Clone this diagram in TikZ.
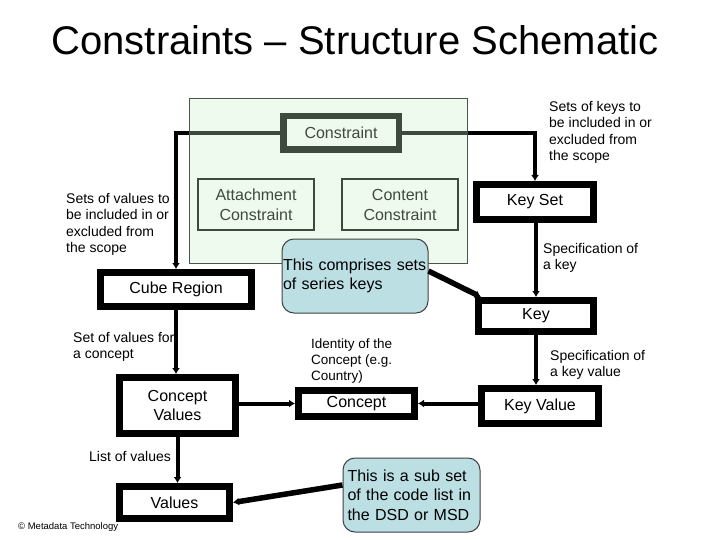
\documentclass[tikz,border=0pt]{standalone}
\usepackage{fontspec}
\setmainfont{Liberation Sans}
\usetikzlibrary{positioning, calc, arrows.meta}
\definecolor{wash}{RGB}{197,239,197}
\definecolor{washline}{RGB}{72,88,72}
\definecolor{callout}{RGB}{188,223,228}
\tikzset{
  > = {Latex[length = 6pt, width = 8pt]},
  heavy/.style = {draw, line width = 7pt, align = center, inner sep = 0pt,
    font = \fontsize{16}{19}\selectfont},
  light/.style = {heavy, line width = 2pt, font = \fontsize{16}{20}\selectfont},
  bubble/.style = {draw = black!75, line width = 1pt, fill = callout,
    rounded corners = 12pt, align = left, minimum height = 74pt,
    font = \fontsize{16}{19.5}\selectfont},
  link/.style = {->, line width = 4pt},
  pointer/.style = {->, line width = 5.5pt},
  caption/.style = {anchor = north west, inner sep = 0pt, align = left,
    font = \fontsize{14}{16.5}\selectfont}
}
\begin{document}
\begin{tikzpicture}[x = 1pt, y = -1pt]
\useasboundingbox (0,0) rectangle (720,540);

%% Title
\node [anchor = base, font = \fontsize{40}{48}\selectfont] (title) at (355,55)
  {Constraints -- Structure Schematic};

%% Constraint group
\node [heavy, line width = 6.5pt, minimum width = 115.5pt, minimum height = 33.5pt]
  (constraint) at (341,133) {Constraint};
\node [light, minimum width = 116pt, minimum height = 51pt] (attach) at (256,204.5)
  {Attachment\\Constraint};
\node [light, minimum width = 116pt, minimum height = 51pt] (content) at (400,204.5)
  {Content\\Constraint};

%% Region side
\node [heavy, minimum width = 151pt, minimum height = 34pt] (cube) at (176,289.5) {Cube Region};
\node [heavy, minimum width = 116pt, minimum height = 56pt] (cvalues) at (177.5,405.5)
  {Concept\\Values};
\node [heavy, minimum width = 110pt, minimum height = 32pt] (values) at (174.5,502.5) {Values};
\node [heavy, minimum width = 116pt, minimum height = 26pt] (concept) at (356.5,403.5) {Concept};

%% Key side
\node [heavy, minimum width = 117pt, minimum height = 35pt] (keyset) at (535,202) {Key Set};
\node [heavy, minimum width = 115pt, minimum height = 31pt] (key) at (536,316) {Key};
\node [heavy, minimum width = 117pt, minimum height = 35pt] (keyvalue) at (540,406) {Key Value};

%% Links
\draw [link] (constraint.west) -| (cube.north);
\draw [link] (constraint.east) -| (keyset.north);
\draw [link] (cube.south) -- (cube.south |- cvalues.north);
\draw [link] (cvalues.south) -- (cvalues.south |- values.north);
\draw [link] (cvalues.east |- concept) -- (concept.west);
\draw [link] (keyvalue.west |- concept) -- (concept.east);
\draw [link] (keyset.south -| key) -- (key.north);
\draw [link] (key.south) -- (key.south |- keyvalue.north);

%% Wash over the constraint group
\fill [wash, fill opacity = 0.31] (189,99) rectangle (467,263);
\draw [washline, line width = 1pt] (189,99) rectangle (467,263);

%% Callouts
\node [bubble, text width = 144pt, inner xsep = 1pt] (series) at (355,276)
  {This comprises sets\\of series keys};
\node [bubble, text width = 128pt, inner xsep = 4.5pt] (subset) at (411.5,495)
  {This is a sub set\\of the code list in\\the DSD or MSD};
\draw [pointer] ([yshift = 5pt] series.east) -- ([xshift = 6pt] key.north west);
\draw [pointer] ([yshift = 10pt] subset.west) -- (values.east);

%% Captions
\node [caption] (scopevalues) at (66,193) {Sets of values to\\be included in or\\excluded from\\the scope};
\node [caption] (scopekeys) at (549,101) {Sets of keys to\\be included in or\\excluded from\\the scope};
\node [caption] (speckey) at (543,243) {Specification of\\a key};
\node [caption] (specvalue) at (550,350) {Specification of\\a key value};
\node [caption] (conceptset) at (73,332) {Set of values for\\a concept};
\node [caption] (listvalues) at (89,451) {List of values};
\node [caption, font = \fontsize{13.5}{16}\selectfont] (identity) at (311,339)
  {Identity of the\\Concept (e.g.\\Country)};
\node [anchor = base west, inner sep = 0pt, font = \fontsize{9.5}{11}\selectfont]
  (credit) at (18,529) {\copyright\ Metadata Technology};

\end{tikzpicture}
\end{document}
